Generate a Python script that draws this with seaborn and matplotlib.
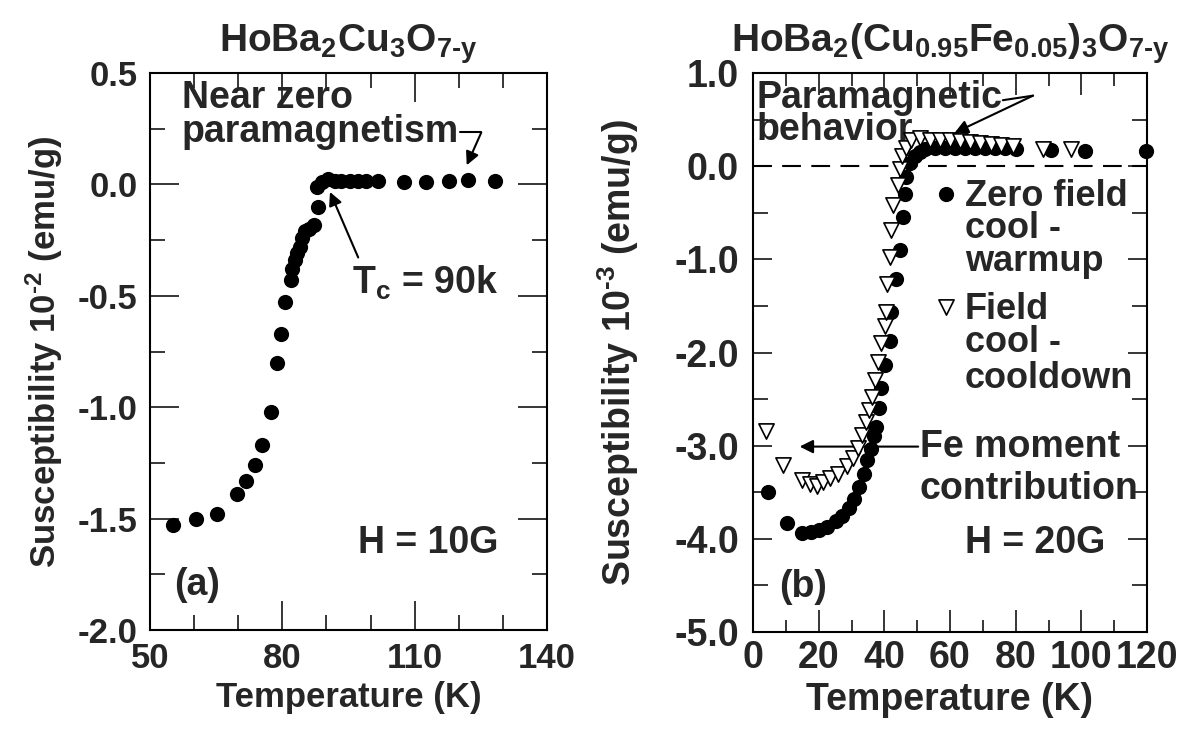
import numpy as np
import pandas as pd
import seaborn as sns
import matplotlib.pyplot as plt
from matplotlib.ticker import MultipleLocator, FixedLocator, FormatStrFormatter

# Dados -------------------------------------------------------------------

# painel (a): HoBa2Cu3O7-y, H = 10G
temp_a = [55.2, 60.4, 65.1, 69.7, 71.8, 73.7, 75.5, 77.4, 78.9, 79.6, 80.7,
          81.9, 82.3, 82.9, 83.4, 83.9, 84.5, 85.2, 86.1, 87.1, 88.0, 87.8,
          89.0, 90.4, 91.9, 93.4, 95.3, 97.2, 99.0, 101.6, 107.6, 112.5,
          117.7, 122.2, 128.1]
chi_a = [-1.53, -1.50, -1.48, -1.39, -1.33, -1.26, -1.17, -1.02, -0.80, -0.67,
         -0.53, -0.43, -0.38, -0.34, -0.31, -0.28, -0.24, -0.21, -0.20, -0.18,
         -0.10, -0.01, 0.012, 0.022, 0.017, 0.017, 0.017, 0.017, 0.017, 0.017,
         0.012, 0.012, 0.017, 0.021, 0.017]

# painel (b): HoBa2(Cu0.95Fe0.05)3O7-y, H = 20G
temp_zfc = [4.5, 10.5, 15.0, 17.6, 20.1, 22.6, 25.2, 27.2, 29.2, 30.8, 32.3,
            33.8, 34.8, 35.8, 37.0, 37.6, 38.3, 39.1, 40.1, 41.6, 42.1, 43.6,
            44.7, 45.7, 46.2, 46.7, 47.7, 49.2, 50.8, 52.3, 55.3, 58.4, 61.4,
            64.5, 67.5, 70.6, 73.6, 76.6, 80.2, 90.9, 101.0, 119.8]
chi_zfc = [-3.50, -3.83, -3.94, -3.93, -3.91, -3.87, -3.81, -3.76, -3.67, -3.57,
           -3.44, -3.30, -3.15, -3.04, -2.90, -2.80, -2.60, -2.38, -2.13, -1.88,
           -1.56, -1.21, -0.90, -0.55, -0.30, -0.12, 0.03, 0.11, 0.15, 0.18,
           0.19, 0.19, 0.19, 0.19, 0.19, 0.19, 0.19, 0.19, 0.18, 0.17, 0.165,
           0.165]

temp_fc = [4.0, 9.0, 14.8, 17.3, 19.4, 21.4, 23.5, 25.9, 28.5, 30.6, 32.1,
           33.3, 34.3, 35.3, 36.3, 37.1, 38.1, 39.1, 40.1, 40.6, 40.8, 41.6,
           42.1, 42.6, 44.2, 44.7, 45.4, 46.7, 48.2, 50.8, 53.8, 56.9, 59.9,
           62.9, 66.0, 69.0, 72.6, 75.6, 79.2, 88.3, 97.0]
chi_fc = [-2.84, -3.21, -3.37, -3.41, -3.43, -3.39, -3.35, -3.30, -3.22, -3.13,
          -3.02, -2.89, -2.75, -2.62, -2.48, -2.30, -2.10, -1.90, -1.72, -1.56,
          -1.27, -0.98, -0.69, -0.42, -0.20, -0.03, 0.11, 0.19, 0.28, 0.30,
          0.28, 0.28, 0.28, 0.27, 0.26, 0.25, 0.24, 0.23, 0.22, 0.18, 0.18]

painel_a = pd.DataFrame({'temperatura': temp_a, 'chi': chi_a})
zfc = pd.DataFrame({'temperatura': temp_zfc, 'chi': chi_zfc})
fc = pd.DataFrame({'temperatura': temp_fc, 'chi': chi_fc})

# Estilo ------------------------------------------------------------------

sns.set_style("ticks")
plt.rcParams['font.family'] = ['Liberation Sans', 'DejaVu Sans']
plt.rcParams['font.weight'] = 'bold'
plt.rcParams['axes.unicode_minus'] = False
plt.rcParams['mathtext.fontset'] = 'custom'
plt.rcParams['mathtext.rm'] = 'Liberation Sans:bold'
plt.rcParams['mathtext.it'] = 'Liberation Sans:bold'
plt.rcParams['mathtext.bf'] = 'Liberation Sans:bold'
plt.rcParams['mathtext.sf'] = 'Liberation Sans:bold'
plt.rcParams['mathtext.default'] = 'rm'

fig = plt.figure(figsize=(11.86, 7.4), dpi=100)
ax1 = fig.add_axes([150 / 1186, 1 - 630 / 740, 397 / 1186, 557 / 740])
ax2 = fig.add_axes([753 / 1186, 1 - 632 / 740, 394 / 1186, 559 / 740])

seta = dict(arrowstyle='-|>', color='black', lw=1.5, mutation_scale=20,
            shrinkA=0, shrinkB=0)

# Painel (a) --------------------------------------------------------------

sns.scatterplot(data=painel_a, x='temperatura', y='chi', ax=ax1, color='black',
                s=120, linewidth=0, legend=False, zorder=3, clip_on=False)

ax1.set_xlim(50, 140)
ax1.set_ylim(-2.0, 0.5)
ax1.xaxis.set_major_locator(FixedLocator([50, 80, 110, 140]))
ax1.xaxis.set_minor_locator(MultipleLocator(10))
ax1.yaxis.set_major_locator(MultipleLocator(0.5))
ax1.yaxis.set_minor_locator(MultipleLocator(0.25))
ax1.yaxis.set_major_formatter(FormatStrFormatter('%.1f'))
ax1.tick_params(which='both', direction='in', top=True, right=True, width=1.3,
                labelsize=25, pad=9)
ax1.tick_params(which='major', length=21)
ax1.tick_params(which='minor', length=11)
ax1.set_xlabel('Temperature (K)', fontsize=25, fontweight='bold', labelpad=4)
ax1.set_ylabel(r'Susceptibility 10$^{\text{-}2}$ (emu/g)', fontsize=25,
               fontweight='bold', labelpad=9)
ax1.set_title(r'HoBa$_2$Cu$_3$O$_{7\text{-}y}$', fontsize=28, fontweight='bold',
              pad=15)

ax1.text(57.2, 0.345, 'Near zero', fontsize=27, va='baseline')
ax1.text(57.2, 0.19, 'paramagnetism', fontsize=27, va='baseline')
ax1.plot([120.3, 125.1], [0.233, 0.233], color='black', lw=1.5)
ax1.annotate('', xy=(121.8, 0.086), xytext=(125.1, 0.233), arrowprops=seta)
ax1.text(95.7, -0.49, r'T$_c$ = 90k', fontsize=27, va='baseline')
ax1.annotate('', xy=(90.8, -0.034), xytext=(97.2, -0.328), arrowprops=seta)
ax1.text(97.2, -1.655, 'H = 10G', fontsize=27, va='baseline')
ax1.text(55.4, -1.845, '(a)', fontsize=27, va='baseline')

# Painel (b) --------------------------------------------------------------

ax2.axhline(0, color='black', lw=1.5, dashes=(9, 5), zorder=1)
sns.scatterplot(data=zfc, x='temperatura', y='chi', ax=ax2, color='black',
                s=120, linewidth=0, legend=False, zorder=3, clip_on=False)
sns.scatterplot(data=fc, x='temperatura', y='chi', ax=ax2, marker='v',
                color='white', edgecolor='black', s=120, linewidth=1.2,
                legend=False, zorder=4, clip_on=False)

ax2.set_xlim(0, 120)
ax2.set_ylim(-5.0, 1.0)
ax2.xaxis.set_major_locator(MultipleLocator(20))
ax2.xaxis.set_minor_locator(MultipleLocator(10))
ax2.yaxis.set_major_locator(MultipleLocator(1.0))
ax2.yaxis.set_minor_locator(MultipleLocator(0.5))
ax2.yaxis.set_major_formatter(FormatStrFormatter('%.1f'))
ax2.tick_params(which='both', direction='in', top=True, right=True, width=1.3,
                labelsize=27)
ax2.tick_params(axis='x', which='major', length=16, pad=6)
ax2.tick_params(axis='x', which='minor', length=9)
ax2.tick_params(axis='y', which='major', length=14, pad=10)
ax2.tick_params(axis='y', which='minor', length=11)
ax2.set_xlabel('Temperature (K)', fontsize=27, fontweight='bold', labelpad=4)
ax2.set_ylabel(r'Susceptibility 10$^{\text{-}3}$ (emu/g)', fontsize=27,
               fontweight='bold', labelpad=24)
ax2.set_title(r'HoBa$_2$(Cu$_{0.95}$Fe$_{0.05}$)$_3$O$_{7\text{-}y}$',
              fontsize=28, fontweight='bold', pad=15)

ax2.text(1.2, 0.625, 'Paramagnetic', fontsize=27, va='baseline')
ax2.text(1.2, 0.276, 'behavior', fontsize=27, va='baseline')
ax2.plot([76.1, 85.3], [0.708, 0.757], color='black', lw=1.5)
ax2.annotate('', xy=(61.4, 0.358), xytext=(85.3, 0.757), arrowprops=seta)

ax2.scatter([58.9], [-0.30], color='black', s=120, linewidth=0)
ax2.text(64.5, -0.424, 'Zero field', fontsize=26, va='baseline')
ax2.text(64.5, -0.774, 'cool -', fontsize=26, va='baseline')
ax2.text(64.5, -1.12, 'warmup', fontsize=26, va='baseline')
ax2.scatter([58.9], [-1.51], marker='v', color='white', edgecolor='black',
            s=120, linewidth=1.2)
ax2.text(64.5, -1.64, 'Field', fontsize=26, va='baseline')
ax2.text(64.5, -1.99, 'cool -', fontsize=26, va='baseline')
ax2.text(64.5, -2.38, 'cooldown', fontsize=26, va='baseline')

ax2.text(50.8, -3.12, 'Fe moment', fontsize=27, va='baseline')
ax2.text(50.8, -3.57, 'contribution', fontsize=27, va='baseline')
ax2.annotate('', xy=(14.2, -3.01), xytext=(50.3, -3.01), arrowprops=seta)
ax2.text(64.5, -4.15, 'H = 20G', fontsize=27, va='baseline')
ax2.text(8.1, -4.62, '(b)', fontsize=27, va='baseline')

for ax in (ax1, ax2):
    for lado in ax.spines.values():
        lado.set_linewidth(1.5)
        lado.set_color('black')

fig.savefig('out.png', dpi=100)
